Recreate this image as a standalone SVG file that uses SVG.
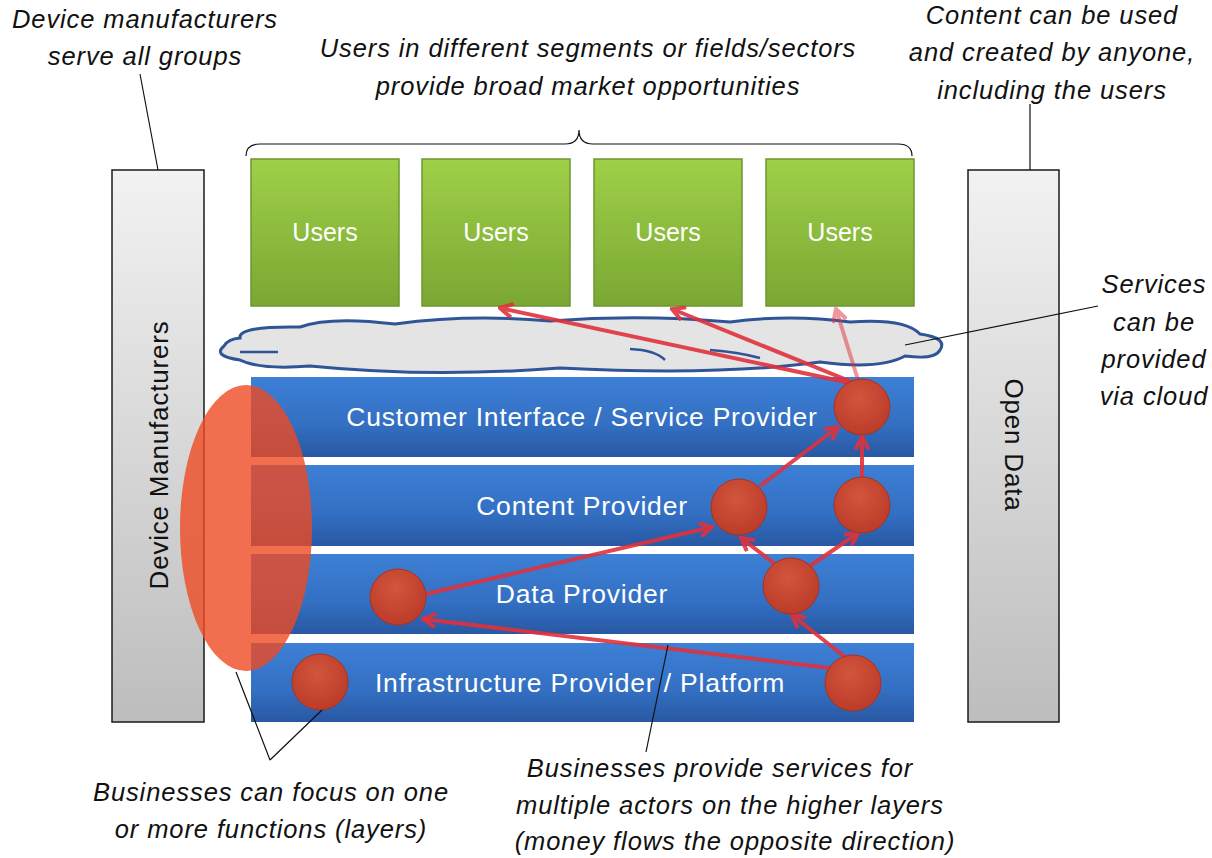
<svg xmlns="http://www.w3.org/2000/svg" width="1212" height="858" viewBox="0 0 1212 858">
<defs>
<linearGradient id="gGray" x1="0" y1="0" x2="0" y2="1"><stop offset="0" stop-color="#f2f2f2"/><stop offset="1" stop-color="#bdbdbd"/></linearGradient>
<linearGradient id="gGreen" x1="0" y1="0" x2="0" y2="1"><stop offset="0" stop-color="#9fd048"/><stop offset="1" stop-color="#7aa733"/></linearGradient>
<linearGradient id="gBlue" x1="0" y1="0" x2="0" y2="1"><stop offset="0" stop-color="#3d80d6"/><stop offset="0.6" stop-color="#336fc2"/><stop offset="1" stop-color="#2858a3"/></linearGradient>
<radialGradient id="gRed" cx="0.45" cy="0.35" r="0.7"><stop offset="0" stop-color="#d4553c"/><stop offset="1" stop-color="#b83a28"/></radialGradient>
<marker id="ah" markerUnits="userSpaceOnUse" viewBox="0 0 14 14" refX="12" refY="7" markerWidth="16" markerHeight="16" orient="auto"><path d="M1,1 L12,7 L1,13" fill="none" stroke="#e0323c" stroke-width="3.5"/></marker>
</defs>
<style>
.bar{fill:url(#gGray);stroke:#1a1a1a;stroke-width:1.5}
.user{fill:url(#gGreen);stroke:#6c9630;stroke-width:1.5}
.band{fill:url(#gBlue)}
.node{fill:url(#gRed);stroke:#a8321f;stroke-width:1}
.wt{font-family:"Liberation Sans",Arial,sans-serif;fill:#fff;font-size:26.5px;letter-spacing:0.8px;text-anchor:middle}
.ut{font-family:"Liberation Sans",Arial,sans-serif;fill:#fff;font-size:25px;text-anchor:middle}
.bt{font-family:"Liberation Sans",Arial,sans-serif;fill:#111;font-size:26px;letter-spacing:0.8px;text-anchor:middle}
.note{font-family:"Liberation Sans",Arial,sans-serif;font-style:italic;fill:#111;font-size:25.5px;letter-spacing:0.9px;text-anchor:middle}
.lead{stroke:#111;stroke-width:1.2;fill:none}
.arr{stroke:#e0323c;stroke-width:4;fill:none;marker-end:url(#ah);opacity:0.9}
</style>
<rect width="1212" height="858" fill="#fff"/>
<g id="device-manufacturers"><rect class="bar" x="112" y="170" width="92" height="552"/><text class="bt" transform="translate(168,455) rotate(-90)">Device Manufacturers</text></g>
<g id="open-data"><rect class="bar" x="968" y="170" width="91" height="552"/><text class="bt" transform="translate(1005,445) rotate(90)">Open Data</text></g>
<g id="users-1"><rect class="user" x="251" y="159" width="148" height="147"/><text class="ut" x="325" y="241">Users</text></g>
<g id="users-2"><rect class="user" x="422" y="159" width="148" height="147"/><text class="ut" x="496" y="241">Users</text></g>
<g id="users-3"><rect class="user" x="594" y="159" width="148" height="147"/><text class="ut" x="668" y="241">Users</text></g>
<g id="users-4"><rect class="user" x="766" y="159" width="148" height="147"/><text class="ut" x="840" y="241">Users</text></g>
<g id="cloud"><path d="M240,338 Q238,326 300,327 Q330,316 395,324 Q470,314 550,321 Q640,314 730,322 Q790,314 850,322 Q905,318 920,334 Q948,338 940,350 Q935,360 905,356 Q880,370 820,362 Q720,376 560,368 Q430,378 310,366 Q260,370 240,360 Q212,356 224,346 Q228,339 240,338 Z" fill="#e4e4e4" stroke="#2f5597" stroke-width="3"/><path d="M240,352 L278,352 M630,349 Q655,350 665,360 M710,350 Q738,352 760,358" fill="none" stroke="#2f5597" stroke-width="2.5"/></g>
<g id="layer-customer-interface"><rect class="band" x="251" y="377" width="663" height="80"/><text class="wt" x="582" y="426">Customer Interface / Service Provider</text></g>
<g id="layer-content"><rect class="band" x="251" y="465" width="663" height="81"/><text class="wt" x="582" y="515">Content Provider</text></g>
<g id="layer-data"><rect class="band" x="251" y="554" width="663" height="80"/><text class="wt" x="582" y="603">Data Provider</text></g>
<g id="layer-infrastructure"><rect class="band" x="251" y="643" width="663" height="79"/><text class="wt" x="580" y="692">Infrastructure Provider / Platform</text></g>
<g id="connectors">
<path class="arr" d="M850,383 L500,308"/>
<path class="arr" d="M852,382 L672,309"/>
<path class="arr" d="M858,380 L836,309" style="opacity:0.5"/>
<path class="arr" d="M760,486 L838,427"/>
<path class="arr" d="M862,477 L862,437"/>
<path class="arr" d="M775,564 L741,538"/>
<path class="arr" d="M810,566 L858,533"/>
<path class="arr" d="M426,594 L712,527"/>
<path class="arr" d="M830,668 L423,619"/>
<path class="arr" d="M845,657 L792,615"/>
</g>
<g id="b-ci"><circle class="node" cx="862" cy="407" r="28"/></g>
<g id="b-cp1"><circle class="node" cx="739" cy="507" r="28"/></g>
<g id="b-cp2"><circle class="node" cx="862" cy="505" r="28"/></g>
<g id="b-dp1"><circle class="node" cx="791" cy="586" r="28"/></g>
<g id="b-dp2"><circle class="node" cx="398" cy="597" r="28"/></g>
<g id="b-ip1"><circle class="node" cx="320" cy="682" r="28"/></g>
<g id="b-ip2"><circle class="node" cx="853" cy="683" r="28"/></g>
<g id="multi-layer-business"><ellipse cx="246" cy="528" rx="66" ry="143" fill="#ee4a22" fill-opacity="0.8"/></g>
<g id="annotations">
<path class="lead" d="M140,74 L158,170"/>
<path class="lead" d="M1030,104 L1030,170"/>
<path class="lead" d="M1098,306 L905,345"/>
<path class="lead" d="M270,760 L236,672 M270,760 L322,710"/>
<path class="lead" d="M646,752 L668,645"/>
<path class="lead" d="M246,156 Q246,144 260,144 L565,144 Q579,144 579,130 Q579,144 593,144 L898,144 Q912,144 912,156" />
<text class="note" x="145" y="28">Device manufacturers</text>
<text class="note" x="145" y="65">serve all groups</text>
<text class="note" x="588" y="57">Users in different segments or fields/sectors</text>
<text class="note" x="588" y="95">provide broad market opportunities</text>
<text class="note" x="1052" y="24">Content can be used</text>
<text class="note" x="1052" y="61">and created by anyone,</text>
<text class="note" x="1052" y="99">including the users</text>
<text class="note" x="1154" y="293">Services</text>
<text class="note" x="1154" y="331">can be</text>
<text class="note" x="1154" y="368">provided</text>
<text class="note" x="1154" y="405">via cloud</text>
<text class="note" x="271" y="801">Businesses can focus on one</text>
<text class="note" x="271" y="838">or more functions (layers)</text>
<text class="note" x="720" y="777">Businesses provide services for</text>
<text class="note" x="730" y="814">multiple actors on the higher layers</text>
<text class="note" x="735" y="850">(money flows the opposite direction)</text>
</g>
</svg>
